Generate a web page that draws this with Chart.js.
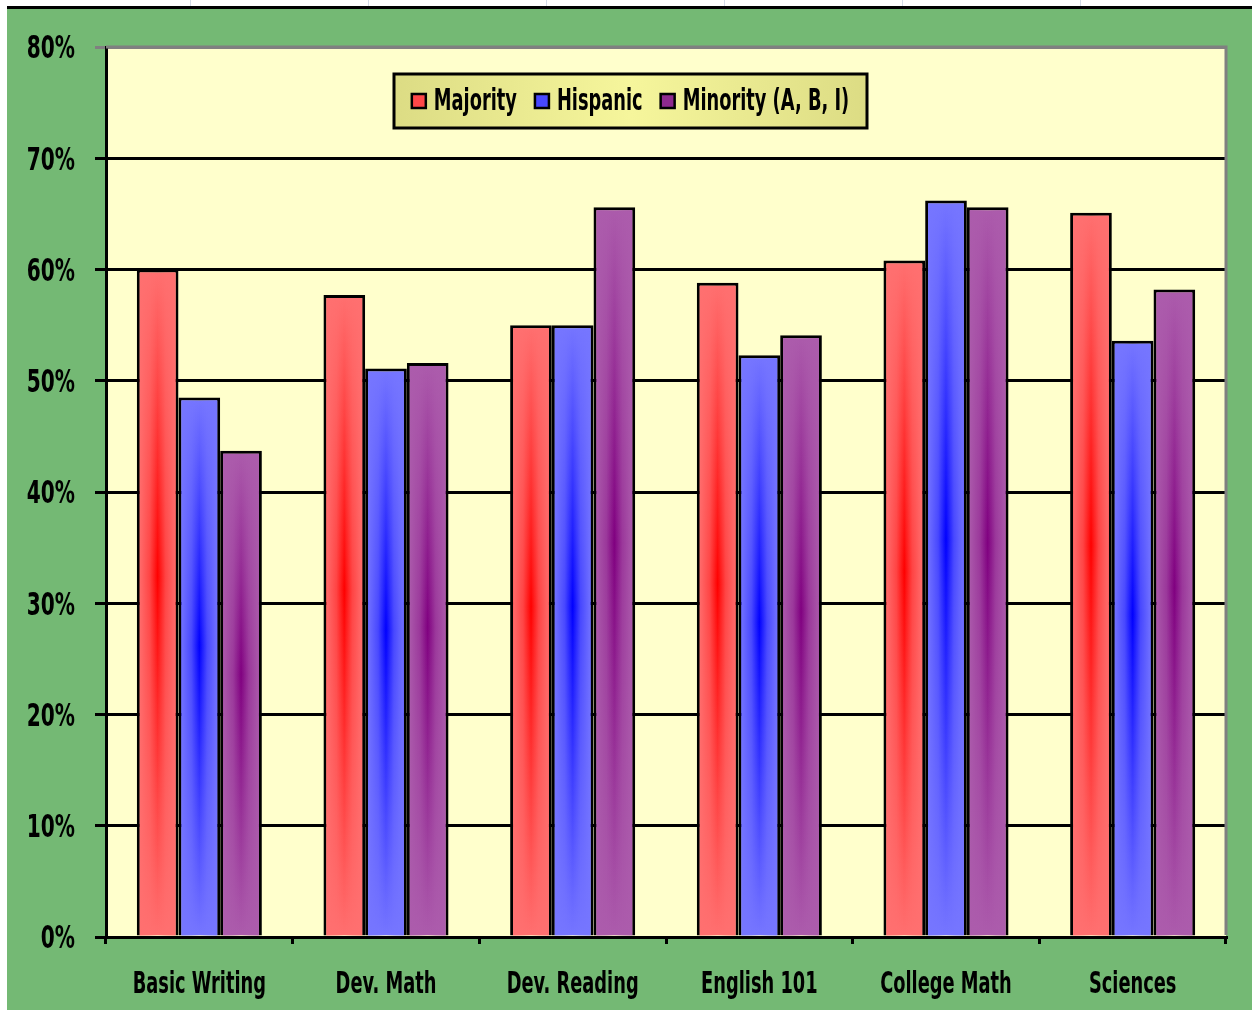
<!DOCTYPE html>
<html>
<head>
<meta charset="utf-8">
<script src="https://cdn.jsdelivr.net/npm/chart.js@4.4.0/dist/chart.umd.min.js"></script>
<style>
  html, body { margin: 0; padding: 0; background: #ffffff; }
  body { width: 1252px; height: 1010px; position: relative; overflow: hidden; }
  .sheet { position: absolute; top: 0; height: 6px; width: 1px; background: #d4dbe8; }
  #wrap { position: absolute; left: 7px; top: 6px; width: 1245px; height: 1004px;
          border-top: 3px solid #000; box-sizing: border-box; }
  canvas { display: block; }
</style>
</head>
<body>
<div class="sheet" style="left:190px"></div>
<div class="sheet" style="left:368px"></div>
<div class="sheet" style="left:546px"></div>
<div class="sheet" style="left:724px"></div>
<div class="sheet" style="left:902px"></div>
<div class="sheet" style="left:1080px"></div>
<div id="wrap"><canvas id="barChart" width="1245" height="1001"></canvas></div>
<script>
// данные с картинки
const categories = ['Basic Writing', 'Dev. Math', 'Dev. Reading', 'English 101', 'College Math', 'Sciences'];
const majority = [60.0, 57.7, 55.0, 58.8, 60.8, 65.1];
const hispanic = [48.5, 51.1, 55.0, 52.3, 66.2, 53.6];
const minority = [43.7, 51.6, 65.6, 54.1, 65.6, 58.2];
const seriesNames = ['Majority', 'Hispanic', 'Minority (A, B, I)'];
const yTicks = [0, 10, 20, 30, 40, 50, 60, 70, 80];

const FONT = '"DejaVu Sans Condensed", "Liberation Sans Narrow", sans-serif';

// вертикальный градиент: светлый сверху и снизу, насыщенный в середине
function barFill(light, dark) {
  return function(ctx) {
    const chart = ctx.chart;
    if (!chart.chartArea || ctx.type !== 'data') return light;
    const y = chart.scales.y;
    const top = y.getPixelForValue(ctx.raw);
    const bottom = y.getPixelForValue(0);
    const g = chart.ctx.createLinearGradient(0, top, 0, bottom);
    g.addColorStop(0, light);
    g.addColorStop(0.46, dark);
    g.addColorStop(1, light);
    return g;
  };
}

const styles = [
  { light: '#ff7070', dark: '#ff0000', mark: '#ff4848', edge: '255,112,112' },
  { light: '#7676ff', dark: '#0000ff', mark: '#4848ff', edge: '118,118,255' },
  { light: '#ac5cac', dark: '#800080', mark: '#8e2a8e', edge: '172,92,172' }
];

// узкий текст (как Agency FB) — сжимаем по горизонтали
function narrowText(c, text, x, y, size, sx, align) {
  c.save();
  c.font = 'bold ' + size + 'px ' + FONT;
  c.textBaseline = 'middle';
  c.textAlign = align;
  c.translate(x, y);
  c.scale(sx, 1);
  c.fillText(text, 0, 0);
  c.restore();
}

const bgPlugin = {
  id: 'bg',
  beforeDraw(chart) {
    const c = chart.ctx, a = chart.chartArea;
    c.save();
    c.fillStyle = '#74b974';
    c.fillRect(0, 0, chart.width, chart.height);
    c.fillStyle = '#ffffcc';
    c.fillRect(a.left, a.top, a.right - a.left, a.bottom - a.top);
    c.restore();
  },
  afterDatasetsDraw(chart) {
    // светлые края у столбиков
    const c = chart.ctx;
    chart.data.datasets.forEach((ds, i) => {
      const meta = chart.getDatasetMeta(i);
      const st = styles[i];
      meta.data.forEach(bar => {
        const p = bar.getProps(['x', 'y', 'base', 'width'], true);
        const l = p.x - p.width / 2 + 3, r = p.x + p.width / 2 - 3;
        const t = p.y + 3, b = p.base;
        const g = c.createLinearGradient(l, 0, r, 0);
        g.addColorStop(0, 'rgba(' + st.edge + ',0.95)');
        g.addColorStop(0.28, 'rgba(' + st.edge + ',0.6)');
        g.addColorStop(0.5, 'rgba(' + st.edge + ',0)');
        g.addColorStop(0.72, 'rgba(' + st.edge + ',0.6)');
        g.addColorStop(1, 'rgba(' + st.edge + ',0.95)');
        c.save();
        c.fillStyle = g;
        c.fillRect(l, t, r - l, b - t);
        c.restore();
      });
    });
  },
  afterDraw(chart) {
    const c = chart.ctx, a = chart.chartArea;
    c.save();
    // серая рамка сверху и справа
    c.strokeStyle = '#808080';
    c.lineWidth = 3;
    c.beginPath();
    c.moveTo(a.left, a.top);
    c.lineTo(a.right, a.top);
    c.lineTo(a.right, a.bottom - 2);
    c.stroke();
    c.fillStyle = '#000';

    // подписи осей
    const ys = chart.scales.y;
    ys.ticks.forEach((t, i) => {
      narrowText(c, t.value + '%', 68, ys.getPixelForTick(i) + 3, 32, 0.7, 'right');
    });
    const xs = chart.scales.x;
    xs.ticks.forEach((t, i) => {
      narrowText(c, xs.getLabelForValue(t.value), xs.getPixelForTick(i), 976, 30, 0.66, 'center');
    });

    // легенда
    const bx = 387, by = 65, bw = 473, bh = 54;
    const lg = c.createLinearGradient(bx, 0, bx + bw, 0);
    lg.addColorStop(0, '#dcdc84');
    lg.addColorStop(0.5, '#f6f69c');
    lg.addColorStop(1, '#dcdc84');
    c.fillStyle = lg;
    c.fillRect(bx, by, bw, bh);
    c.strokeStyle = '#000';
    c.lineWidth = 3;
    c.strokeRect(bx, by, bw, bh);

    const lsize = 30, lsx = 0.66;
    c.font = 'bold ' + lsize + 'px ' + FONT;
    const items = chart.data.datasets.map((ds, i) => ({
      text: ds.label, w: c.measureText(ds.label).width * lsx, color: styles[i].mark
    }));
    const gap = 18, mk = 14, mg = 8;
    const total = items.reduce((s, it) => s + mk + mg + it.w, 0) + gap * (items.length - 1);
    let x = bx + (bw - total) / 2;
    const cy = by + bh / 2 + 1;
    items.forEach(it => {
      c.fillStyle = it.color;
      c.fillRect(x, cy - mk / 2 - 1, mk, mk);
      c.lineWidth = 2.5;
      c.strokeStyle = '#000';
      c.strokeRect(x, cy - mk / 2 - 1, mk, mk);
      c.fillStyle = '#000';
      narrowText(c, it.text, x + mk + mg, cy, lsize, lsx, 'left');
      x += mk + mg + it.w + gap;
    });
    c.restore();
  }
};

document.addEventListener('DOMContentLoaded', function() {
  const seriesData = [majority, hispanic, minority];

  const datasets = seriesData.map((d, i) => ({
    label: seriesNames[i],
    data: d,
    backgroundColor: barFill(styles[i].light, styles[i].dark),
    borderColor: '#000',
    borderWidth: 3,
    borderSkipped: 'bottom',
    barPercentage: 1.0,
    categoryPercentage: 0.67
  }));

  new Chart(document.getElementById('barChart').getContext('2d'), {
    type: 'bar',
    data: { labels: categories, datasets: datasets },
    plugins: [bgPlugin],
    options: {
      responsive: false,
      animation: false,
      layout: { padding: { left: 0, right: 26, top: 38, bottom: 0 } },
      plugins: {
        legend: { display: false },
        tooltip: { enabled: false }
      },
      scales: {
        x: {
          afterFit(scale) { scale.height = 73; },
          grid: {
            offset: true,
            drawOnChartArea: false,
            drawTicks: true,
            tickLength: 7,
            color: '#000',
            lineWidth: 3
          },
          border: { color: '#000', width: 3 },
          ticks: { display: false }
        },
        y: {
          min: 0,
          max: 80,
          afterFit(scale) { scale.width = 99; },
          afterBuildTicks(scale) { scale.ticks = yTicks.map(v => ({ value: v })); },
          grid: {
            color: ctx => (ctx.tick && ctx.tick.value === 80) ? '#808080' : '#000',
            lineWidth: 3,
            tickLength: 11
          },
          border: { color: '#000', width: 3 },
          ticks: { display: false }
        }
      }
    }
  });
});
</script>
</body>
</html>
